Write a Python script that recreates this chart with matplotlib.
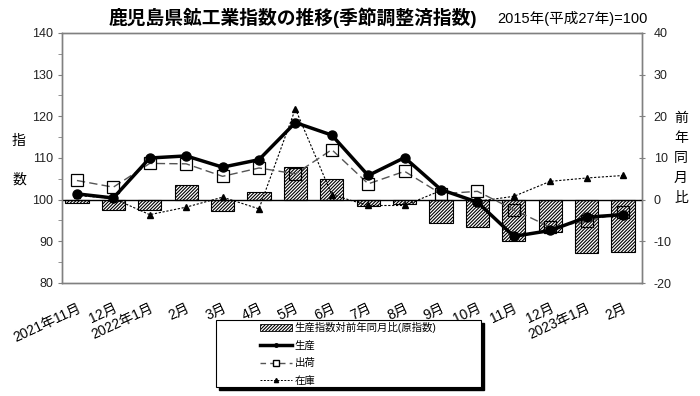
import matplotlib
matplotlib.use('Agg')
import matplotlib.pyplot as plt
from matplotlib.patches import Rectangle, Patch
from matplotlib.lines import Line2D
from matplotlib.ticker import MultipleLocator

plt.rcParams['font.family'] = ['Liberation Sans', 'Noto Sans CJK JP']
plt.rcParams['hatch.linewidth'] = 0.8
plt.rcParams['axes.unicode_minus'] = False

months = ['2021年11月', '12月', '2022年1月', '2月', '3月', '4月', '5月', '6月',
          '7月', '8月', '9月', '10月', '11月', '12月', '2023年1月', '2月']
production = [101.4, 100.4, 110.0, 110.5, 107.8, 109.6, 118.5, 115.5,
              105.8, 110.1, 102.4, 99.4, 91.2, 92.6, 95.8, 96.4]
shipments = [104.6, 103.0, 108.7, 108.6, 105.6, 107.6, 106.2, 112.0,
             103.8, 106.8, 101.4, 102.0, 97.6, 93.4, 94.8, 97.0]
inventory = [101.0, 100.3, 96.4, 98.2, 100.6, 97.8, 121.8, 101.2,
             98.6, 98.6, 102.2, 99.6, 100.8, 104.4, 105.2, 105.8]
yoy = [-0.8, -2.4, -2.4, 3.6, -2.6, 1.8, 7.8, 5.0,
       -1.4, -1.0, -5.6, -6.6, -9.8, -7.8, -12.8, -12.6]

legend_labels = ['生産指数対前年同月比(原指数)', '生産', '出荷', '在庫']

fig = plt.figure(figsize=(7, 3.96), dpi=100)
ax = fig.add_axes([62/700, 1-283/396, 580/700, 250/396])
ax2 = ax.twinx()

x = list(range(len(months)))

ax2.bar(x, yoy, width=0.64, facecolor='white', edgecolor='black',
        hatch='//////////', linewidth=0.8, zorder=2)
ax2.set_ylim(-20, 40)
ax2.set_yticks(range(-20, 41, 10))
ax2.tick_params(axis='y', direction='inout', length=5, color='#808080',
                labelsize=9, labelcolor='#222222', pad=6)

ax.set_zorder(ax2.get_zorder() + 1)
ax.patch.set_visible(False)

ax.axhline(100, color='black', lw=1, zorder=1)
ax.plot(x, inventory, color='black', lw=0.8, ls=(0, (2, 1.5)), marker='^',
        markersize=4.5, zorder=3)
ax.plot(x, shipments, color='#555555', lw=1.0, ls=(0, (6, 3)), marker='s',
        markersize=8, markerfacecolor='none', markeredgecolor='black',
        markeredgewidth=0.9, zorder=4)
ax.plot(x, production, color='black', lw=2.5, marker='o', markersize=6.5,
        zorder=5)

ax.set_xlim(-0.41, 15.52)
ax.set_ylim(80, 140)
ax.set_yticks(range(80, 141, 10))
ax.yaxis.set_minor_locator(MultipleLocator(5))
ax.tick_params(axis='y', which='both', direction='out', length=3,
               color='#808080', labelsize=9, labelcolor='#222222')
ax.set_xticks(x)
ax.set_xticklabels(months, rotation=25, ha='right', va='top',
                   rotation_mode='anchor', fontsize=10)
ax.tick_params(axis='x', length=0, pad=13)

for a in (ax, ax2):
    for s in a.spines.values():
        s.set_color('#808080')
        s.set_linewidth(1.0)

fig.text(293/700, 1-18/396, '鹿児島県鉱工業指数の推移(季節調整済指数)',
         ha='center', va='center', fontsize=13.5, fontweight='bold')
fig.text(497/700, 1-19/396, '2015年(平成27年)=100', ha='left',
         va='center', fontsize=10.5)

fig.text(19/700, 1-141/396, '指', ha='center', va='center', fontsize=10)
fig.text(19/700, 1-180/396, '数', ha='center', va='center', fontsize=10)
for i, ch in enumerate('前年同月比'):
    fig.text(681/700, 1-(118+20*i)/396, ch, ha='center', va='center',
             fontsize=10)

# legend box with shadow
bx, by, bw, bh = 216/700, 1-387/396, (481-216)/700, (387-320)/396
fig.patches.append(Rectangle((bx+3/700, by-3/396), bw, bh,
                             transform=fig.transFigure, facecolor='black',
                             edgecolor='black', zorder=0))
fig.patches.append(Rectangle((bx, by), bw, bh, transform=fig.transFigure,
                             facecolor='white', edgecolor='black', lw=0.8,
                             zorder=1))

handles = [
    Patch(facecolor='white', edgecolor='black', hatch='//////////', lw=0.6),
    Line2D([], [], color='black', lw=2.5, marker='o', markersize=2.5),
    Line2D([], [], color='#555555', lw=1.0, ls=(0, (4, 3)), marker='s',
           markersize=4, markerfacecolor='white', markeredgecolor='black'),
    Line2D([], [], color='black', lw=0.7, ls=(0, (2, 1.5)), marker='^',
           markersize=3),
]
leg = fig.legend(handles, legend_labels, loc='center',
                 bbox_to_anchor=(0.498, 1-354/396), frameon=False,
                 fontsize=7.5, handlelength=3.0, handleheight=0.7,
                 handletextpad=0.3, labelspacing=0.7)
leg.set_zorder(5)

fig.savefig('out.png', dpi=100)
